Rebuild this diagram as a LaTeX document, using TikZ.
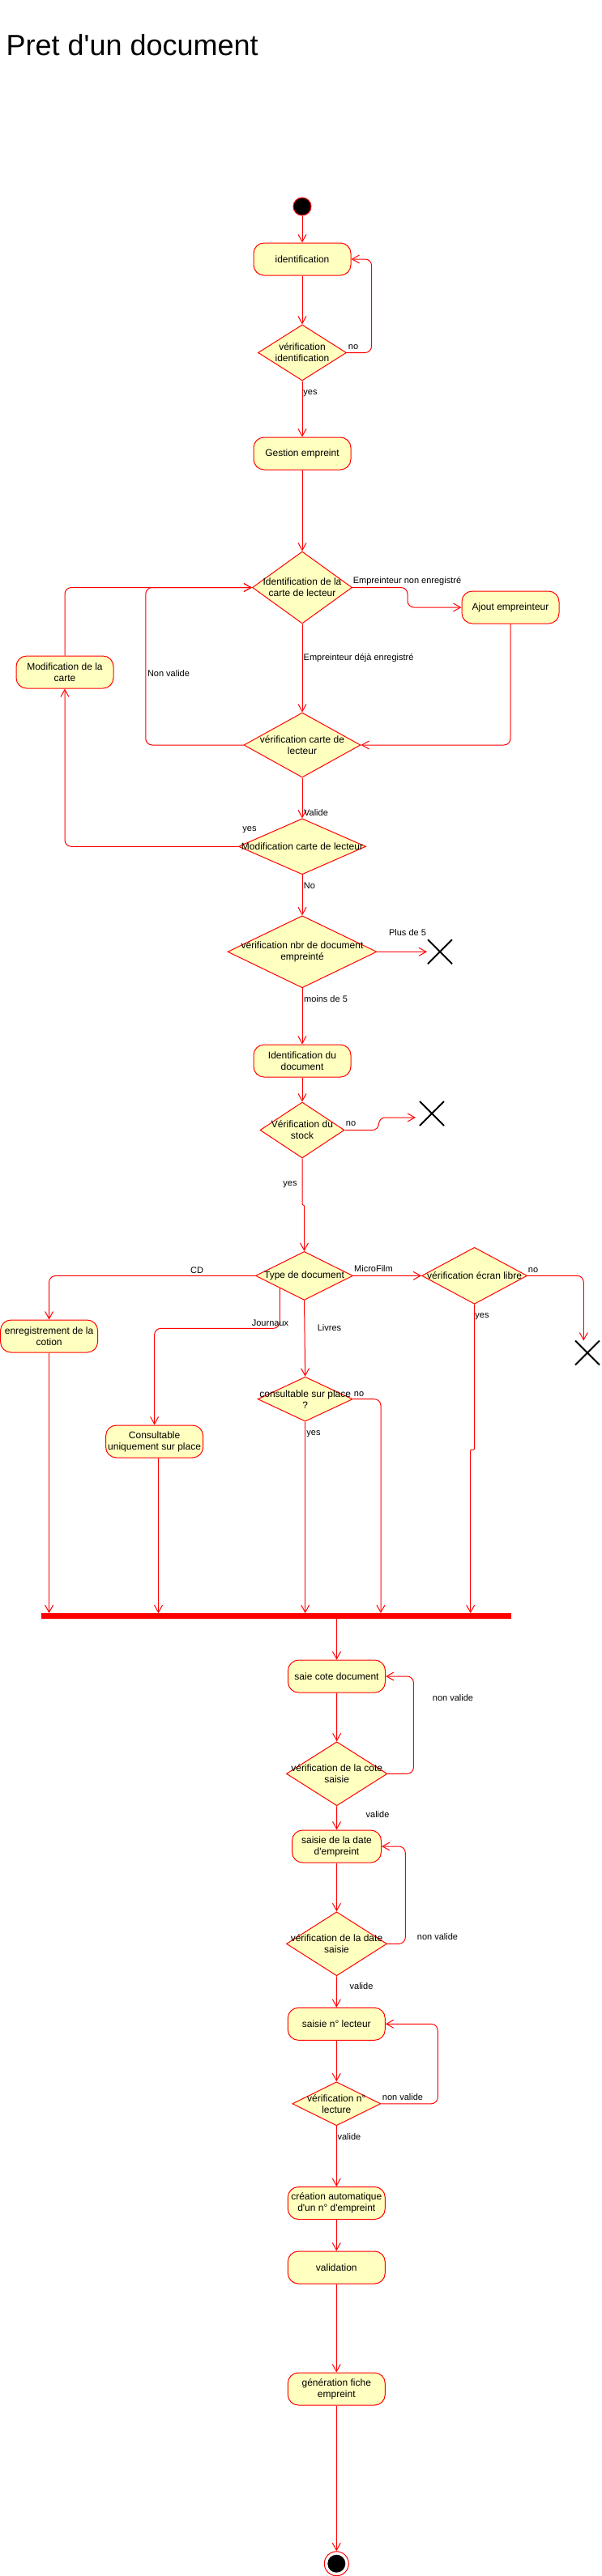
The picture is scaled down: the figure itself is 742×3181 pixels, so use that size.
\documentclass[tikz,border=0pt]{standalone}
\usepackage{fontspec}
\setmainfont{Liberation Sans}
\usetikzlibrary{shapes.geometric,shapes.misc,arrows.meta,calc}
\definecolor{yfill}{HTML}{FFFFC0}
\newcommand{\nf}{\fontsize{12}{14}\selectfont}
\newcommand{\lf}{\fontsize{11}{13}\selectfont}
\newcommand{\ap}{\textquotesingle}
\begin{document}
\begin{tikzpicture}[x=1pt,y=-1pt,
  act/.style={draw=red, fill=yfill, line width=1pt, rounded corners=13pt, minimum width=120pt, minimum height=40pt, inner sep=0pt, align=center, font=\nf},
  dia/.style={shape=diamond, draw=red, fill=yfill, line width=1pt, inner sep=0pt},
  dtxt/.style={font=\nf, align=center, inner sep=0pt},
  lbl/.style={font=\lf, inner sep=0pt, anchor=base},
  conn/.style={draw=red, line width=1pt, -{Straight Barb[length=9pt,width=10pt]}, rounded corners=8pt},
  xmark/.style={cross out, draw=black, line width=2pt, minimum size=28pt, inner sep=0pt},
]
\useasboundingbox (0,0) rectangle (742,3181);

\node[anchor=base west, inner sep=0pt, font=\fontsize{36}{40}\selectfont] (title) at (7.5,68) {Pret d\ap un document};

% nodes
\node[circle, fill=black, draw=red, line width=1pt, minimum size=22pt, inner sep=0pt] (start) at (373,255) {};
\node[act] (ident) at (373,320) {identification};
\node[dia, minimum width=109pt, minimum height=69pt] (vident) at (373,435.5) {};
\node[dtxt] (videntt) at (vident) {vérification\\identification};
\node[act] (gestion) at (373,560) {Gestion empreint};

\node[dia, minimum width=123pt, minimum height=89pt] (d1) at (373,725.5) {};
\node[dtxt] (d1t) at (d1) {Identification de la\\carte de lecteur};
\node[act] (ajout) at (630,750) {Ajout empreinteur};
\node[dia, minimum width=144pt, minimum height=80pt] (d2) at (373,920) {};
\node[dtxt] (d2t) at (d2) {vérification carte de\\lecteur};
\node[act] (modcarte) at (80,830) {Modification de la\\carte};
\node[dia, minimum width=157pt, minimum height=69pt] (d3) at (373,1045.3) {};
\node[dtxt] (d3t) at (d3) {Modification carte de lecteur};

\node[dia, minimum width=184pt, minimum height=89pt] (d4) at (373,1175.3) {};
\node[dtxt] (d4t) at (d4) {vérification nbr de document\\empreinté};
\node[xmark] (x1) at (543,1175.3) {};
\node[act] (iddoc) at (373,1310) {Identification du\\document};
\node[dia, minimum width=104pt, minimum height=69pt] (d5) at (373,1395.5) {};
\node[dtxt] (d5t) at (d5) {Vérification du\\stock};
\node[xmark] (x2) at (533,1375) {};

\node[dia, minimum width=120pt, minimum height=60pt] (d6) at (375.5,1575.4) {};
\node[dtxt] (d6t) at (d6) {Type de document};
\node[act] (enreg) at (60.6,1650) {enregistrement de la\\cotion};
\node[dia, minimum width=130pt, minimum height=70pt] (d7) at (585.6,1575.3) {};
\node[dtxt] (d7t) at (d7) {vérification écran libre};
\node[xmark] (x3) at (725,1670.5) {};
\node[act] (consult) at (190.6,1780) {Consultable\\uniquement sur place};
\node[dia, minimum width=117pt, minimum height=55pt] (d8) at (376.7,1727.7) {};
\node[dtxt] (d8t) at (d8) {consultable sur place\\?};

\node[fill=red, minimum width=580pt, minimum height=6.5pt, inner sep=0pt] (bar) at (340.5,1995.5) {};

\node[act] (saie) at (415.5,2070) {saie cote document};
\node[dia, minimum width=124.5pt, minimum height=79pt] (d9) at (415.7,2190.3) {};
\node[dtxt] (d9t) at (d9) {vérification de la cote\\saisie};
\node[act, minimum width=110pt] (sdate) at (415.5,2280) {saisie de la date\\d\ap empreint};
\node[dia, minimum width=124pt, minimum height=79pt] (d10) at (415.5,2400.3) {};
\node[dtxt] (d10t) at (d10) {vérification de la date\\saisie};
\node[act] (slect) at (415.3,2499.3) {saisie n° lecteur};
\node[dia, minimum width=109pt, minimum height=54pt] (d11) at (415.3,2597.8) {};
\node[dtxt] (d11t) at (d11) {vérification n°\\lecture};
\node[act] (creation) at (415.3,2720.5) {création automatique\\d\ap un n° d\ap empreint};
\node[act] (valid) at (415.3,2800) {validation};
\node[act] (gener) at (415.3,2950) {génération fiche\\empreint};
\node[circle, draw=red, fill=white, line width=1pt, minimum size=30pt, inner sep=0pt] (end) at (415.3,3165.7) {};
\node[circle, fill=black, minimum size=22pt, inner sep=0pt] (endin) at (end) {};

% helper coordinates
\coordinate (c5) at (375.5,1488);
\coordinate (c7) at (580.7,1790);
\coordinate (c8) at (470,1728);
\coordinate (cc) at (195.5,1800);

% connectors
\draw[conn] (start.south) -- (ident.north);
\draw[conn] (ident.south) -- (vident.north);
\draw[conn] (vident.east) -- ++(30.6,0) |- (ident.east);
\draw[conn] (vident.south) -- (gestion.north);
\draw[conn] (gestion.south) -- (d1.north);
\draw[conn] (d1.east) -- ++(68,0) |- (ajout.west);
\draw[conn] (ajout.south) |- (d2.east);
\draw[conn] (d1.south) -- (d2.north);
\draw[conn] (d2.west) -- ++(-120.7,0) |- (d1.west);
\draw[conn] (modcarte.north) |- (d1.west);
\draw[conn] (d2.south) -- (d3.north);
\draw[conn] (d3.west) -| (modcarte.south);
\draw[conn] (d3.south) -- (d4.north);
\draw[conn, shorten >=1pt] (d4.east) -- (x1.west);
\draw[conn] (d4.south) -- (iddoc.north);
\draw[conn] (iddoc.south) -- (d5.north);
\draw[conn] (d5.east) -- ++(42,0) |- ([xshift=-5pt,yshift=-5pt]x2.west);
\draw[conn, rounded corners=1pt] (d5.south) |- (c5) -- (d6.north);
\draw[conn] (d6.west) -| (enreg.north);
\draw[conn] (d6.east) -- (d7.west);
\draw[conn] (d7.east) -| ([xshift=-4.7pt]x3.north);
\draw[conn] (d6.south west) -- ++(0,49.7) -| (consult.north);
\draw[conn] (d6.south) -- (d8.north);
\draw[conn] (d8.east) -| (c8 |- bar.north);
\draw[conn] (d8.south) -- (d8.south |- bar.north);
\draw[conn] (enreg.south) -- (enreg.south |- bar.north);
\draw[conn] (cc) -- (cc |- bar.north);
\draw[conn, rounded corners=1pt] (d7.south) |- (c7) -- (c7 |- bar.north);
\draw[conn] (bar.south -| saie.north) -- (saie.north);
\draw[conn] (saie.south) -- (d9.north);
\draw[conn] (d9.east) -- ++(32,0) |- (saie.east);
\draw[conn] (d9.south) -- (sdate.north);
\draw[conn] (sdate.south) -- (d10.north);
\draw[conn] (d10.east) -- ++(22.3,0) |- (sdate.east);
\draw[conn] (d10.south) -- (slect.north);
\draw[conn] (slect.south) -- (d11.north);
\draw[conn] (d11.east) -- ++(70,0) |- (slect.east);
\draw[conn] (d11.south) -- (creation.north);
\draw[conn] (creation.south) -- (valid.north);
\draw[conn] (valid.south) -- (gener.north);
\draw[conn] (gener.south) -- (end.north);

% labels
\node[lbl] (l1) at (436,431) {no};
\node[lbl] (l2) at (383,487) {yes};
\node[lbl] (l3) at (502.5,720) {Empreinteur non enregistré};
\node[lbl] (l4) at (442.6,815) {Empreinteur déjà enregistré};
\node[lbl] (l5) at (208,835) {Non valide};
\node[lbl] (l6) at (390,1007) {Valide};
\node[lbl] (l7) at (308,1026) {yes};
\node[lbl] (l8) at (382,1097) {No};
\node[lbl] (l9) at (503,1155) {Plus de 5};
\node[lbl] (l10) at (402,1237) {moins de 5};
\node[lbl] (l11) at (433,1390) {no};
\node[lbl] (l12) at (358,1464) {yes};
\node[lbl] (l13) at (243,1572) {CD};
\node[lbl] (l14) at (461,1570) {MicroFilm};
\node[lbl] (l15) at (658,1571) {no};
\node[lbl] (l16) at (595,1627) {yes};
\node[lbl] (l17) at (333.5,1637) {Journaux};
\node[lbl] (l18) at (406.5,1643) {Livres};
\node[lbl] (l19) at (443,1724) {no};
\node[lbl] (l20) at (387,1772) {yes};
\node[lbl] (l21) at (559,2100) {non valide};
\node[lbl] (l22) at (466,2244) {valide};
\node[lbl] (l23) at (540,2395) {non valide};
\node[lbl] (l24) at (446,2456) {valide};
\node[lbl] (l25) at (497,2593) {non valide};
\node[lbl] (l26) at (431,2642) {valide};
\end{tikzpicture}
\end{document}
